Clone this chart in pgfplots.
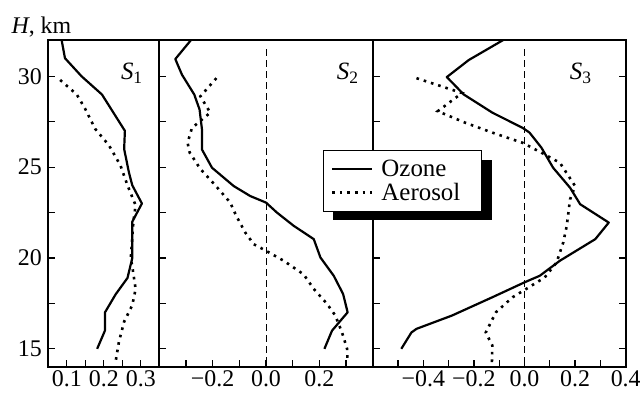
\documentclass[border=0pt]{standalone}
\usepackage{fontspec}
\setmainfont{Liberation Serif}
\usepackage{pgfplots}
\pgfplotsset{compat=1.18}
\newcommand{\fs}[1]{\fontsize{#1}{#1}\selectfont}
\pgfplotsset{
  panel/.style={
    scale only axis, height=327bp, ymin=14, ymax=32,
    ytick={15,20,25,30}, minor ytick={17.5,22.5,27.5},
    tick align=inside, xtick pos=left,
    major tick length=7bp, minor tick length=7bp,
    every tick/.style={line width=1.3bp, black},
    every minor tick/.style={line width=1.3bp, black},
    axis line style={line width=1.8bp},
    tick label style={font=\fs{24}},
    /pgf/number format/assume math mode=true,
    yticklabel style={xshift=-3bp},
    clip=true,
  },
  oz/.style={black, line width=2.2bp, line join=round},
  ae/.style={black, line width=2.6bp, dash pattern=on 2.6bp off 5bp},
  zl/.style={black, line width=0.9bp, dash pattern=on 7bp off 4bp, forget plot},
}
\begin{document}
\begin{tikzpicture}
\useasboundingbox (-48.3bp,-27bp) rectangle (591.7bp,367bp);
% Panel 1
\begin{axis}[panel, at={(0bp,0bp)}, anchor=south west, width=111bp,
  xmin=0.05, xmax=0.35, xtick={0.1,0.2,0.3}, minor xtick={0.15,0.25},
  xticklabels={0.1,0.2,0.3}, ytick pos=left]
\addplot[oz] coordinates {(0.086,32) (0.095,31) (0.14,30) (0.195,29) (0.257,27) (0.255,26) (0.268,24.7) (0.277,24) (0.303,23) (0.277,22) (0.277,20) (0.264,18.9) (0.232,18) (0.203,17) (0.203,16) (0.182,15)};
\addplot[ae] coordinates {(0.082,29.8) (0.127,29) (0.15,28.2) (0.177,27.1) (0.214,26.2) (0.245,25.1) (0.264,24) (0.286,22.9) (0.28,22) (0.273,20) (0.278,19.4) (0.286,18.3) (0.277,17.4) (0.255,16.5) (0.241,15.4) (0.232,14.3)};
\node[anchor=base east, font=\fs{25}] at (axis cs:0.3146,29.82) {\textit{S}\textsubscript{1}};
\end{axis}
% Panel 2
\begin{axis}[panel, at={(111bp,0bp)}, anchor=south west, width=213.4bp,
  xmin=-0.4, xmax=0.4, xtick={-0.2,0,0.2}, minor xtick={-0.3,-0.1,0.1,0.3},
  xticklabels={−0.2,0.0,0.2}, yticklabels={}, ytick pos=left]
\addplot[zl] coordinates {(0,31.5) (0,14)};
\addplot[oz] coordinates {(-0.281,32) (-0.34,30.95) (-0.315,30.09) (-0.269,29) (-0.249,28.17) (-0.24,27.07) (-0.24,25.97) (-0.2025,24.97) (-0.121,23.96) (-0.059,23.41) (0,23.05) (0.041,22.5) (0.104,21.77) (0.179,21.04) (0.204,20.03) (0.254,19.02) (0.289,18.02) (0.306,17.01) (0.2475,16) (0.219,15)};
\addplot[ae] coordinates {(-0.186,29.9) (-0.246,28.9) (-0.209,28) (-0.2775,27.16) (-0.294,26.34) (-0.286,25.8) (-0.246,24.9) (-0.19,24) (-0.134,23.05) (-0.111,22.3) (-0.0775,21.4) (-0.046,20.76) (0,20.4) (0.066,19.85) (0.141,19.1) (0.179,18.3) (0.229,17.47) (0.26,16.83) (0.285,15.9) (0.304,15) (0.306,14.27)};
\node[anchor=base east, font=\fs{25}] at (axis cs:0.36,29.82) {\textit{S}\textsubscript{2}};
\end{axis}
% Panel 3
\begin{axis}[panel, at={(324.4bp,0bp)}, anchor=south west, width=253bp,
  xmin=-0.6, xmax=0.4, xtick={-0.4,-0.2,0,0.2,0.4}, minor xtick={-0.5,-0.3,-0.1,0.1,0.3},
  xticklabels={−0.4,−0.2,0.0,0.2,0.4}, yticklabels={}, ytick pos=both]
\addplot[zl] coordinates {(0,31.5) (0,14)};
\addplot[oz] coordinates {(-0.084,32) (-0.22,30.9) (-0.307,29.96) (-0.24,29) (-0.127,28) (-0.007,27.16) (0.02,26.9) (0.067,26.07) (0.113,24.97) (0.18,23.87) (0.22,22.96) (0.333,21.95) (0.28,21.04) (0.14,19.85) (0.06,19.02) (0,18.66) (-0.127,17.84) (-0.287,16.83) (-0.427,16.1) (-0.447,15.9) (-0.487,15)};
\addplot[ae] coordinates {(-0.427,29.9) (-0.247,29.08) (-0.343,28.08) (-0.233,27.44) (-0.127,26.9) (-0.007,26.34) (0.08,25.7) (0.14,25.24) (0.2,23.96) (0.18,23.23) (0.167,21.77) (0.153,20.85) (0.127,19.76) (0.08,18.93) (0.007,18.3) (-0.047,17.84) (-0.113,17.01) (-0.153,15.9) (-0.127,15.18) (-0.129,14.18)};
\node[anchor=base east, font=\fs{25}] at (axis cs:0.279,29.82) {\textit{S}\textsubscript{3}};
\end{axis}
% legend shadow
\fill[black] (285bp,147bp) rectangle (443.4bp,207bp);
% legend-only axis
\begin{axis}[scale only axis, at={(324.4bp,0bp)}, anchor=south west, width=253bp, height=327bp,
  hide axis, xmin=0, xmax=1, ymin=0, ymax=1,
  legend cell align=left,
  legend image code/.code={\draw[#1] (0bp,0bp) -- (40bp,0bp);},
  legend style={at={(rel axis cs:-0.1953,0.6636)}, anchor=north west,
    draw=black, line width=1.2bp, fill=white, font=\fs{25},
    inner xsep=7bp, inner ysep=7.5bp, row sep=1bp, column sep=6bp,
    nodes={inner sep=2bp}}]
\addlegendimage{oz}
\addlegendentry{\makebox[91bp][l]{Ozone}}
\addlegendimage{ae}
\addlegendentry{\makebox[91bp][l]{Aerosol}}
\end{axis}
\node[anchor=base west, font=\fs{24}] at (-40.3bp,333bp) {\textit{H}, km};
\end{tikzpicture}
\end{document}
